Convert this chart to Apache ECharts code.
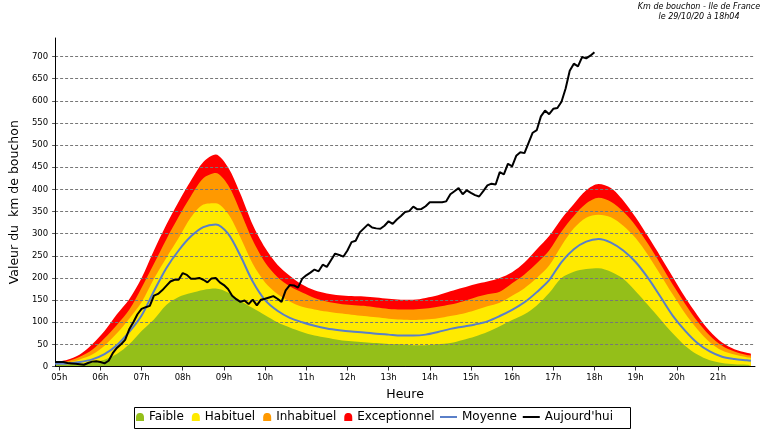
<!DOCTYPE html>
<html>
<head>
<meta charset="utf-8">
<script src="https://cdn.jsdelivr.net/npm/echarts@6/dist/echarts.min.js"></script>
<style>
html,body{margin:0;padding:0;background:#fff;}
#c{width:765px;height:430px;}
</style>
</head>
<body>
<div id="c"></div>
<script>
// ---- DATA ----
// x categories: 6-minute slots from 04h54 to 21h54
const slotStartMinutes = 294, slotStepMinutes = 6, slotCount = 171;
const hourLabels = ['05h','06h','07h','08h','09h','10h','11h','12h','13h','14h','15h','16h','17h','18h','19h','20h','21h'];
const yTicks = [0,50,100,150,200,250,300,350,400,450,500,550,600,650,700];

// band sample times (hours)
const bandTimes = [4.9,5.2,5.5,5.8,6.1,6.4,6.7,7.0,7.3,7.6,7.9,8.2,8.5,8.8,9.1,9.4,9.7,10.0,10.3,10.6,10.9,11.2,11.5,11.8,12.1,12.4,12.7,13.0,13.3,13.6,13.9,14.2,14.5,14.8,15.1,15.4,15.7,16.0,16.3,16.6,16.9,17.2,17.5,17.8,18.1,18.4,18.7,19.0,19.3,19.6,19.9,20.2,20.5,20.8,21.1,21.4,21.7,21.8];
const exceptionnel = [10,15,27,50,80,118,152,200,262,320,372,420,462,479,450,390,320,268,230,205,185,172,165,161,159,158,156,153,151,151,155,161,170,178,186,192,200,213,235,265,295,334,367,398,412,403,375,337,294,249,203,157,116,80,54,39,31,29];
const inhabituel = [8,12,22,38,64,94,128,178,232,287,338,385,425,437,410,350,285,235,202,181,167,155,147,142,139,137,133,130,129,129,131,135,140,147,156,163,169,188,208,233,262,305,340,368,381,372,350,318,277,232,185,142,102,70,47,34,26,25];
const habituel = [6,9,16,27,47,75,108,145,198,245,290,337,366,369,345,292,232,190,164,147,135,129,124,120,117,114,111,108,106,105,106,109,114,119,127,136,144,160,177,200,228,273,312,336,343,337,318,290,252,208,163,120,84,55,36,27,21,20];
const faible = [4,5,6,9,15,28,50,80,106,139,157,166,173,176,167,148,132,116,100,88,78,70,65,60,57,55,53,51,50,48,48,50,53,60,68,78,91,105,118,138,166,200,214,220,222,214,198,170,139,107,75,47,27,14,8,5,4,3];
const moyenne = [6,7,10,16,28,48,78,115,170,222,262,294,315,321,300,250,192,150,126,110,100,92,86,82,79,77,74,72,70,70,72,78,85,90,95,102,114,128,145,168,195,236,265,282,288,280,262,236,200,158,115,81,53,34,22,17,14,13];
// today, one value per 6-minute slot from 04h54 to 18h00
const aujourdhui = [
10,10,10,8,7,6,5,4,8,11,
12,10,7,13,30,42,50,60,84,100,
118,130,134,137,160,164,172,182,192,196,
196,211,207,198,198,200,196,190,199,200,
190,184,175,160,152,146,149,141,151,138,
151,153,156,159,153,146,172,184,183,178,
198,206,212,219,215,230,225,240,255,252,
248,262,281,284,303,312,321,314,312,311,
318,328,322,332,340,349,351,361,355,356,
362,371,371,371,371,373,389,396,403,389,
398,392,387,384,396,409,413,411,439,434,
458,452,476,484,482,505,528,534,565,578,
570,582,584,598,628,668,684,678,699,696,
702,710];

// ---- BUILD ----
function pad(n){return (n<10?'0':'')+n;}
const categories = [];
for (let i=0;i<slotCount;i++){
  const m = slotStartMinutes + i*slotStepMinutes;
  const h = Math.floor(m/60), mm = m%60;
  categories.push(mm===0 ? pad(h)+'h' : pad(h)+'h'+pad(mm));
}
function slotIndex(t){ return Math.round((t*60 - slotStartMinutes)/slotStepMinutes); }
function pairs(vals){ return bandTimes.map((t,i)=>[slotIndex(t), vals[i]]); }

const FONT = 'DejaVu Sans';
const mound = 'path://M0,10 L0,6 C0,1.5 2,0 5,0 C8,0 10,1.5 10,6 L10,10 Z';
const dash = 'path://M0,0 L17,0 L17,2 L0,2 Z';

function band(name, vals, color){
  return {
    name, type:'line', data: pairs(vals), smooth:0.3, symbol:'none', showSymbol:false,
    color, itemStyle:{color}, lineStyle:{width:0, color}, areaStyle:{color, opacity:1},
    z:2, animation:false, symbolKeepAspect:true
  };
}

const chart = echarts.init(document.getElementById('c'), null, {renderer:'canvas'});
chart.setOption({
  animation:false,
  backgroundColor:'#fff',
  textStyle:{fontFamily:FONT},
  grid:{left:55, right:10, top:38, bottom:63.5, containLabel:false},
  legend:[
    {data:[{name:'Faible',icon:mound},{name:'Habituel',icon:mound},{name:'Inhabituel',icon:mound},{name:'Exceptionnel',icon:mound}],
     left:136, top:411, padding:0, itemWidth:8, itemHeight:8, itemGap:8,
     textStyle:{fontSize:12, color:'#000', fontFamily:FONT}, selectedMode:false},
    {data:[{name:'Moyenne',icon:dash,itemStyle:{color:'#5a7fc8'}},{name:"Aujourd'hui",icon:dash,itemStyle:{color:'#000'}}],
     left:440, top:411, padding:0, itemWidth:17, itemHeight:2, itemGap:6,
     textStyle:{fontSize:12, color:'#000', fontFamily:FONT}, selectedMode:false}
  ],
  xAxis:{
    type:'category', data:categories, boundaryGap:false, z:3,
    name:'Heure', nameLocation:'middle', nameGap:22,
    nameTextStyle:{fontSize:12.5, color:'#000', fontFamily:FONT},
    axisLine:{lineStyle:{color:'#000', width:1}},
    axisTick:{show:true, length:4, interval:(i,v)=>hourLabels.includes(v), lineStyle:{color:'#333'}},
    axisLabel:{interval:(i,v)=>hourLabels.includes(v), fontSize:8.5, color:'#000', margin:7, fontFamily:FONT},
    splitLine:{show:false}
  },
  yAxis:{
    type:'value', min:0, max:742, interval:50, z:3,
    name:'Valeur du  km de bouchon', nameLocation:'middle', nameGap:30, nameRotate:90,
    nameTextStyle:{fontSize:12.5, color:'#000', fontFamily:FONT},
    axisLine:{show:true, lineStyle:{color:'#000', width:1}},
    axisTick:{show:true, length:3, lineStyle:{color:'#555'}},
    axisLabel:{fontSize:8.5, color:'#000', margin:7, showMaxLabel:false, fontFamily:FONT,
      formatter:v=>yTicks.includes(v)?String(v):''},
    splitLine:{show:true, showMaxLine:false, showMinLine:false, lineStyle:{color:'#777', width:1, type:[3,2]}}
  },
  series:[
    band('Exceptionnel', exceptionnel, '#ff0000'),
    band('Inhabituel', inhabituel, '#ff9900'),
    band('Habituel', habituel, '#ffea00'),
    band('Faible', faible, '#94bf19'),
    {name:'Moyenne', type:'line', data:pairs(moyenne), smooth:0.3, symbol:'none', showSymbol:false,
     color:'#5a7fc8', lineStyle:{width:2, color:'#5a7fc8'}, z:4},
    {name:"Aujourd'hui", type:'line', data:aujourdhui, smooth:false, symbol:'none', showSymbol:false,
     color:'#000', lineStyle:{width:2, color:'#000'}, z:5}
  ],
  graphic:[
    {type:'rect', shape:{x:134.5, y:407.5, width:496, height:21}, style:{fill:null, stroke:'#000', lineWidth:1}, silent:true, z:10},
    {type:'text', x:699, y:2, style:{text:'Km de bouchon - Ile de France\nle 29/10/20 à 18h04', align:'center',
      font:'italic 8px "DejaVu Sans"', fill:'#000', lineHeight:10}, silent:true}
  ]
});
</script>
</body>
</html>
